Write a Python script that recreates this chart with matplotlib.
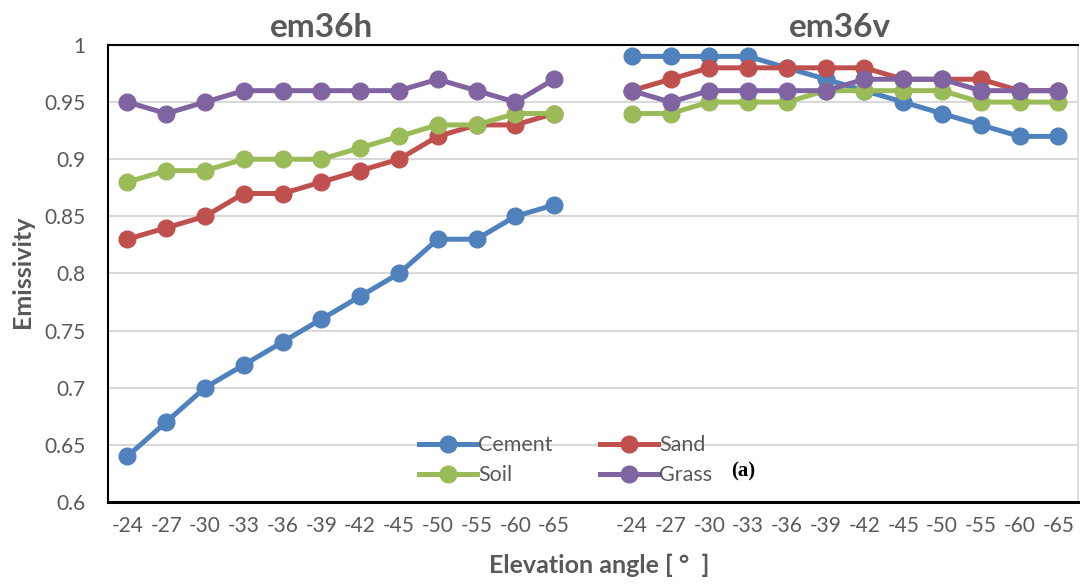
import matplotlib
matplotlib.use("Agg")
import matplotlib.pyplot as plt
import numpy as np

plt.rcParams['font.family'] = ['Lato', 'DejaVu Sans']

# elevation angles (same for both channels)
angles = ['-24', '-27', '-30', '-33', '-36', '-39', '-42', '-45', '-50', '-55', '-60', '-65']
materials = ['Cement', 'Sand', 'Soil', 'Grass']
colors = ['#4F81BD', '#C0504D', '#9BBB59', '#8064A2']

# em36h
h_cement = [0.64, 0.67, 0.70, 0.72, 0.74, 0.76, 0.78, 0.80, 0.83, 0.83, 0.85, 0.86]
h_sand   = [0.83, 0.84, 0.85, 0.87, 0.87, 0.88, 0.89, 0.90, 0.92, 0.93, 0.93, 0.94]
h_soil   = [0.88, 0.89, 0.89, 0.90, 0.90, 0.90, 0.91, 0.92, 0.93, 0.93, 0.94, 0.94]
h_grass  = [0.95, 0.94, 0.95, 0.96, 0.96, 0.96, 0.96, 0.96, 0.97, 0.96, 0.95, 0.97]

# em36v
v_cement = [0.99, 0.99, 0.99, 0.99, 0.98, 0.97, 0.96, 0.95, 0.94, 0.93, 0.92, 0.92]
v_sand   = [0.96, 0.97, 0.98, 0.98, 0.98, 0.98, 0.98, 0.97, 0.97, 0.97, 0.96, 0.96]
v_soil   = [0.94, 0.94, 0.95, 0.95, 0.95, 0.96, 0.96, 0.96, 0.96, 0.95, 0.95, 0.95]
v_grass  = [0.96, 0.95, 0.96, 0.96, 0.96, 0.96, 0.97, 0.97, 0.97, 0.96, 0.96, 0.96]

h_series = [h_cement, h_sand, h_soil, h_grass]
v_series = [v_cement, v_sand, v_soil, v_grass]

fig = plt.figure(figsize=(10.8, 5.84), dpi=100)
ax = fig.add_axes([0.1, 0.1404, 0.898, 0.7826])

n = len(angles)
xh = np.arange(n) + 0.5
xv = np.arange(n) + n + 1.5

gray = '#595959'
handles = []
for name, c, hs, vs in zip(materials, colors, h_series, v_series):
    ln, = ax.plot(xh, hs, color=c, lw=3.6, marker='o', ms=12, label=name)
    ax.plot(xv, vs, color=c, lw=3.6, marker='o', ms=12)
    handles.append(ln)

ax.set_xlim(0, 2 * n + 1)
ax.set_ylim(0.6, 1.0)
ax.set_yticks(np.arange(0.6, 1.001, 0.05))
ax.set_yticklabels(['0.6', '0.65', '0.7', '0.75', '0.8', '0.85', '0.9', '0.95', '1'])
ax.set_xticks(np.concatenate([xh, xv]))
ax.set_xticklabels(angles + angles)
ax.tick_params(length=0, labelsize=15, labelcolor=gray)
ax.tick_params(axis='y', pad=16)
ax.tick_params(axis='x', pad=10)
ax.grid(axis='y', color='#D9D9D9', lw=1.5)
ax.set_axisbelow(True)

for s in ['left', 'top']:
    ax.spines[s].set_color('black')
    ax.spines[s].set_linewidth(1.5)
ax.spines['bottom'].set_color('black')
ax.spines['bottom'].set_linewidth(2.2)
ax.spines['right'].set_color('#D9D9D9')
ax.spines['right'].set_linewidth(1.2)

ax.text(5.51, 1.0 + 0.003, 'em36h', ha='center', va='bottom', fontsize=24,
        fontweight='bold', color=gray)
ax.text(18.87, 1.0 + 0.003, 'em36v', ha='center', va='bottom', fontsize=24,
        fontweight='bold', color=gray)

fig.text(0.021, 0.534, 'Emissivity', rotation=90, ha='center', va='center',
         fontsize=18, fontweight='bold', color=gray)
fig.text(0.555, 0.032, 'Elevation angle [ °  ]', ha='center', va='center',
         fontsize=18, fontweight='bold', color=gray)

# row-wise legend order: Cement, Sand / Soil, Grass
order = [0, 2, 1, 3]
leg = ax.legend([handles[i] for i in order], [materials[i] for i in order],
                ncol=2, loc='center', bbox_to_anchor=(0.524, 0.212),
                bbox_transform=fig.transFigure, frameon=False, fontsize=15.5,
                handlelength=2.7, columnspacing=2.2, labelspacing=0.45,
                handletextpad=0.05)
for t in leg.get_texts():
    t.set_color(gray)

fig.text(0.688, 0.193, '(a)', ha='center', va='center', fontsize=15,
         fontweight='bold', family='Liberation Serif')

fig.savefig('out.png', dpi=100)
